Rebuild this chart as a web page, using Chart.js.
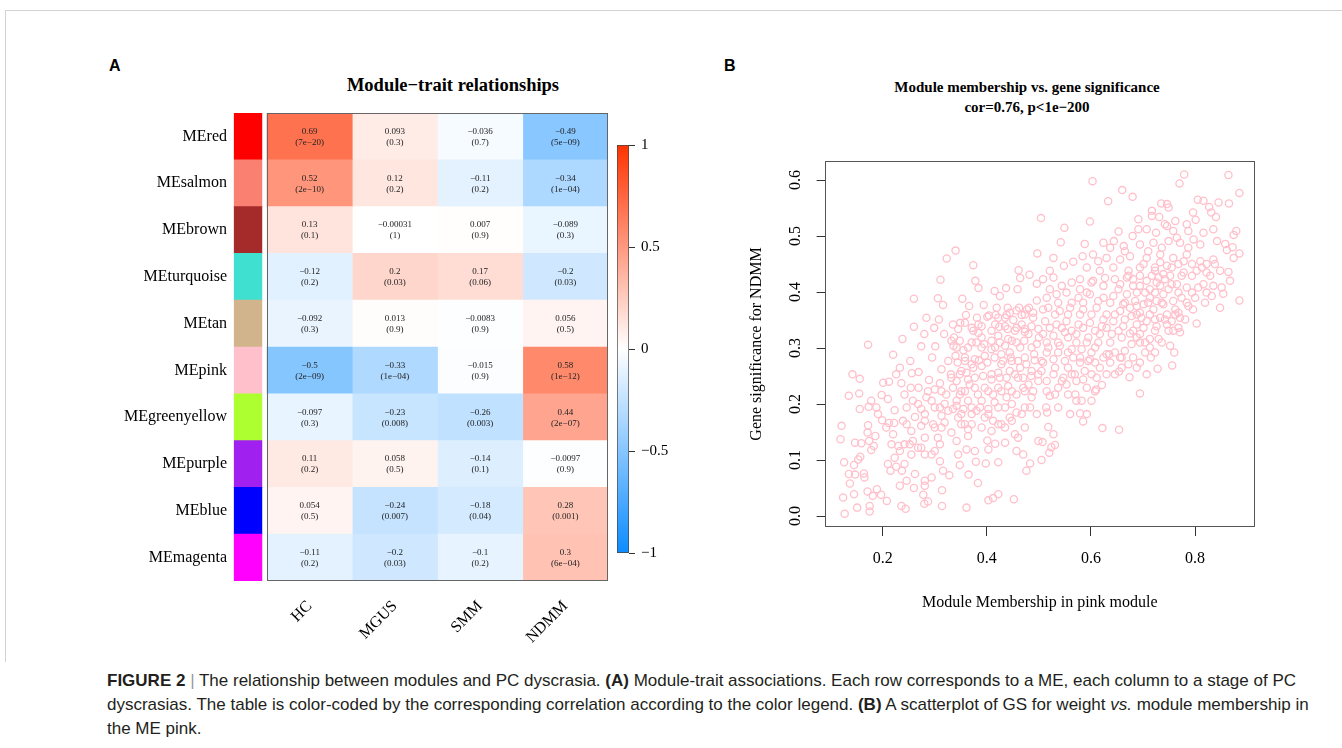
<!DOCTYPE html>
<html><head><meta charset="utf-8">
<script src="https://cdn.jsdelivr.net/npm/chart.js@4/dist/chart.umd.min.js"></script>
<style>
html,body{margin:0;padding:0;background:#fff;}
body{width:1342px;height:748px;position:relative;overflow:hidden;font-family:"Liberation Serif","Times New Roman",serif;color:#000;}
.abs{position:absolute;}
#frameTop{left:5px;top:10px;width:1337px;height:1px;background:#d3d3d3;}
#frameLeft{left:5px;top:10px;width:1px;height:652px;background:#d3d3d3;}
.panel{font-family:"Liberation Sans",Arial,sans-serif;font-weight:bold;font-size:16px;line-height:16px;}
.ttl{font-weight:bold;text-align:center;white-space:nowrap;}
#caption{left:107px;top:669px;font-family:"Liberation Sans",Arial,sans-serif;font-size:17px;line-height:24px;color:#231f20;white-space:nowrap;}
#caption .sep{color:#999;}
canvas{position:absolute;}
</style>
</head><body>
<div id="frameTop" class="abs"></div>
<div id="frameLeft" class="abs"></div>
<div class="abs panel" style="left:109px;top:58px;">A</div>
<div class="abs panel" style="left:724px;top:58px;">B</div>
<div class="abs ttl" style="left:253px;top:74px;width:400px;font-size:18.5px;line-height:22px;">Module−trait relationships</div>
<div class="abs ttl" style="left:827px;top:77px;width:400px;font-size:15px;line-height:20px;">Module membership vs. gene significance<br>cor=0.76, p&lt;1e−200</div>
<canvas id="heat" width="700" height="660" style="left:0;top:0;"></canvas>
<canvas id="cbar" width="60" height="440" style="left:617px;top:130px;"></canvas>
<canvas id="scat" width="560" height="480" style="left:740px;top:140px;"></canvas>
<div id="caption" class="abs"><b>FIGURE 2</b> <span class="sep">|</span> The relationship between modules and PC dyscrasia. <b>(A)</b> Module-trait associations. Each row corresponds to a ME, each column to a stage of PC<br>dyscrasias. The table is color-coded by the corresponding correlation according to the color legend. <b>(B)</b> A scatterplot of GS for weight <i>vs.</i> module membership in<br>the ME pink.</div>
<script>
// ---------------- data ----------------
const modules = ["MEred","MEsalmon","MEbrown","MEturquoise","MEtan","MEpink","MEgreenyellow","MEpurple","MEblue","MEmagenta"];
const moduleColors = ["#FF0000","#FA8072","#A52A2A","#40E0D0","#D2B48C","#FFC0CB","#ADFF2F","#A020F0","#0000FF","#FF00FF"];
const traits = ["HC","MGUS","SMM","NDMM"];
const corrHC   = [0.69, 0.52, 0.13, -0.12, -0.092, -0.5, -0.097, 0.11, 0.054, -0.11];
const corrMGUS = [0.093, 0.12, -0.00031, 0.2, 0.013, -0.33, -0.23, 0.058, -0.24, -0.2];
const corrSMM  = [-0.036, -0.11, 0.007, 0.17, -0.0083, -0.015, -0.26, -0.14, -0.18, -0.1];
const corrNDMM = [-0.49, -0.34, -0.089, -0.2, 0.056, 0.58, 0.44, -0.0097, 0.28, 0.3];
const pHC   = ["7e−20","2e−10","0.1","0.2","0.3","2e−09","0.3","0.2","0.5","0.2"];
const pMGUS = ["0.3","0.2","1","0.03","0.9","1e−04","0.008","0.5","0.007","0.03"];
const pSMM  = ["0.7","0.2","0.9","0.06","0.9","0.9","0.003","0.1","0.04","0.2"];
const pNDMM = ["5e−09","1e−04","0.3","0.03","0.5","1e−12","2e−07","0.9","0.001","6e−04"];
const legendTicks = [-1, -0.5, 0, 0.5, 1];
const scatterXTicks = [0.2, 0.4, 0.6, 0.8];
const scatterYTicks = [0, 0.1, 0.2, 0.3, 0.4, 0.5, 0.6];
// [module membership in pink, gene significance for NDMM]
const pinkGenes = [
[0.504,0.532],[0.340,0.474],[0.323,0.460],[0.374,0.448],[0.497,0.469],[0.461,0.439],[0.464,0.425],[0.482,0.431],[0.311,0.422],[0.378,0.420],[0.384,0.407],[0.496,0.415],[0.415,0.402],[0.437,0.407],[0.459,0.405],
[0.425,0.393],[0.260,0.388],[0.306,0.389],[0.316,0.377],[0.353,0.388],[0.366,0.375],[0.394,0.377],[0.419,0.372],[0.440,0.372],[0.462,0.372],[0.481,0.372],[0.496,0.385],[0.360,0.359],[0.381,0.354],[0.404,0.358],[0.422,0.354],[0.438,0.359],[0.451,0.350],[0.473,0.360],[0.489,0.354],[0.284,0.354],[0.308,0.351],[0.349,0.345],[0.384,0.342],[0.416,0.342],[0.435,0.339],[0.467,0.342],[0.260,0.338],[0.299,0.336],
[0.238,0.316],[0.172,0.306],[0.280,0.325],[0.274,0.303],[0.301,0.303],[0.318,0.325],[0.337,0.319],[0.336,0.304],[0.355,0.296],[0.371,0.310],[0.384,0.327],[0.390,0.301],[0.409,0.313],[0.422,0.322],[0.435,0.304],[0.448,0.313],[0.464,0.301],[0.480,0.325],[0.496,0.307],[0.295,0.283],[0.220,0.288],[0.340,0.286],[0.377,0.280],[0.396,0.286],[0.428,0.289],[0.444,0.292],[0.473,0.283],[0.491,0.289],
[0.233,0.265],[0.253,0.277],[0.256,0.255],[0.269,0.257],[0.142,0.253],[0.156,0.245],[0.313,0.262],[0.331,0.253],[0.351,0.259],[0.364,0.244],[0.390,0.268],[0.409,0.253],[0.428,0.271],[0.444,0.259],[0.460,0.247],[0.486,0.259],[0.499,0.241],[0.201,0.238],[0.212,0.240],[0.289,0.243],[0.310,0.237],[0.342,0.241],[0.236,0.237],[0.254,0.229],[0.269,0.229],[0.287,0.223],[0.313,0.223],[0.358,0.223],[0.377,0.229],[0.403,0.223],[0.422,0.229],[0.448,0.223],[0.473,0.223],[0.135,0.215],[0.155,0.219],[0.198,0.216],[0.210,0.209],
[0.156,0.191],[0.173,0.195],[0.188,0.194],[0.223,0.189],[0.246,0.194],[0.268,0.200],[0.262,0.177],[0.281,0.182],[0.300,0.194],[0.319,0.200],[0.313,0.179],[0.342,0.206],[0.351,0.182],[0.371,0.194],[0.390,0.206],[0.403,0.182],[0.422,0.194],[0.444,0.176],[0.457,0.185],[0.473,0.194],[0.496,0.182],[0.199,0.171],[0.212,0.166],[0.222,0.166],[0.121,0.161],[0.172,0.162],[0.246,0.164],[0.274,0.161],[0.297,0.164],[0.358,0.164],[0.364,0.155],[0.422,0.164],[0.313,0.158],
[0.119,0.137],[0.171,0.149],[0.186,0.143],[0.174,0.134],[0.147,0.131],[0.159,0.130],[0.183,0.125],[0.178,0.118],[0.220,0.146],[0.230,0.125],[0.242,0.128],[0.258,0.134],[0.274,0.122],[0.281,0.140],[0.306,0.140],[0.310,0.128],[0.300,0.116],[0.332,0.149],[0.342,0.134],[0.364,0.143],[0.361,0.119],[0.377,0.116],[0.401,0.135],[0.416,0.129],[0.435,0.131],[0.454,0.146],[0.460,0.140],[0.403,0.119],[0.457,0.116],[0.470,0.110],[0.499,0.134],[0.345,0.110],[0.281,0.110],[0.255,0.110],[0.223,0.104],[0.157,0.106],[0.153,0.101],
[0.126,0.096],[0.210,0.093],[0.226,0.088],[0.242,0.093],[0.215,0.081],[0.237,0.081],[0.145,0.091],[0.135,0.075],[0.147,0.074],[0.164,0.076],[0.165,0.069],[0.137,0.058],[0.262,0.075],[0.246,0.063],[0.281,0.063],[0.294,0.069],[0.316,0.081],[0.328,0.073],[0.348,0.091],[0.365,0.074],[0.379,0.097],[0.398,0.094],[0.422,0.096],[0.383,0.059],[0.476,0.081],[0.483,0.094],[0.233,0.054],[0.260,0.050],[0.281,0.054],[0.171,0.044],[0.189,0.048],[0.181,0.036],[0.197,0.038],[0.208,0.027],[0.145,0.039],[0.124,0.033],[0.278,0.038],[0.287,0.026],[0.280,0.022],[0.314,0.046],[0.314,0.018],[0.236,0.018],[0.244,0.013],[0.175,0.018],[0.175,0.008],[0.151,0.015],[0.127,0.004],[0.361,0.015],[0.403,0.028],[0.412,0.032],[0.422,0.039],[0.452,0.030],
[0.342,0.301],[0.358,0.277],[0.374,0.265],[0.348,0.217],[0.364,0.206],[0.380,0.188],[0.396,0.176],[0.412,0.170],[0.435,0.158],[0.425,0.247],[0.448,0.277],[0.464,0.265],[0.480,0.235],[0.486,0.212],[0.438,0.212],[0.335,0.191],[0.351,0.164],[0.416,0.301],[0.390,0.319],[0.371,0.336],[0.473,0.334],[0.454,0.331],
[0.401,0.356],[0.417,0.359],[0.435,0.354],[0.444,0.363],[0.457,0.367],[0.467,0.359],[0.477,0.369],[0.489,0.363],
[0.335,0.342],[0.345,0.334],[0.358,0.345],[0.374,0.331],[0.390,0.339],[0.409,0.331],[0.424,0.338],[0.440,0.334],[0.457,0.336],[0.473,0.329],[0.486,0.339],[0.499,0.334],
[0.332,0.313],[0.348,0.313],[0.364,0.301],[0.380,0.310],[0.395,0.307],[0.409,0.298],[0.425,0.310],[0.441,0.316],[0.457,0.310],[0.472,0.313],[0.486,0.301],[0.500,0.319],
[0.326,0.277],[0.344,0.274],[0.358,0.283],[0.371,0.271],[0.385,0.278],[0.401,0.274],[0.415,0.283],[0.431,0.277],[0.446,0.283],[0.460,0.277],[0.476,0.271],[0.492,0.278],
[0.332,0.247],[0.348,0.253],[0.361,0.256],[0.377,0.247],[0.393,0.250],[0.409,0.244],[0.422,0.256],[0.438,0.247],[0.454,0.253],[0.470,0.247],[0.485,0.250],[0.499,0.253],
[0.300,0.226],[0.322,0.217],[0.335,0.229],[0.351,0.223],[0.367,0.235],[0.383,0.217],[0.396,0.229],[0.412,0.217],[0.428,0.223],[0.441,0.232],[0.457,0.217],[0.470,0.229],[0.489,0.223],
[0.294,0.206],[0.310,0.194],[0.326,0.188],[0.342,0.197],[0.355,0.191],[0.371,0.182],[0.387,0.194],[0.403,0.191],[0.415,0.203],[0.435,0.194],[0.448,0.200],[0.467,0.182],[0.483,0.194],
[0.281,0.170],[0.300,0.158],[0.319,0.167],[0.345,0.176],[0.371,0.164],[0.390,0.158],[0.409,0.152],[0.428,0.164],[0.448,0.170],[0.473,0.158],
[0.226,0.253],[0.242,0.217],[0.258,0.206],[0.274,0.191],[0.284,0.212],[0.239,0.170],[0.255,0.152],[0.268,0.122],[0.294,0.110],[0.310,0.098],[0.252,0.128],[0.233,0.116],[0.217,0.128],[0.207,0.158],[0.191,0.182],[0.178,0.206],
[0.603,0.598],[0.779,0.610],[0.770,0.594],[0.864,0.609],[0.885,0.577],[0.660,0.582],[0.680,0.570],[0.633,0.562],[0.598,0.526],[0.549,0.515],[0.542,0.489],[0.528,0.461],
[0.735,0.558],[0.746,0.557],[0.749,0.551],[0.805,0.565],[0.816,0.563],[0.845,0.560],[0.865,0.558],[0.827,0.552],[0.831,0.542],[0.840,0.534],[0.796,0.542],[0.801,0.529],[0.691,0.530],[0.717,0.536],[0.731,0.534],[0.762,0.527],[0.784,0.521],
[0.653,0.508],[0.691,0.512],[0.707,0.512],[0.725,0.506],[0.746,0.518],[0.758,0.509],[0.787,0.509],[0.816,0.506],[0.835,0.512],[0.874,0.502],[0.879,0.509],
[0.588,0.486],[0.624,0.488],[0.644,0.491],[0.680,0.500],[0.663,0.482],[0.694,0.485],[0.720,0.488],[0.749,0.491],[0.771,0.488],[0.797,0.494],[0.810,0.485],[0.842,0.491],[0.858,0.486],[0.872,0.480],[0.861,0.475],[0.885,0.469],[0.874,0.461],
[0.584,0.464],[0.604,0.467],[0.566,0.454],[0.548,0.447],[0.521,0.438],[0.508,0.423],[0.528,0.426],[0.630,0.461],[0.656,0.458],[0.675,0.464],[0.707,0.461],[0.733,0.467],[0.758,0.461],[0.784,0.467],[0.810,0.455],[0.835,0.458],
[0.592,0.444],[0.617,0.438],[0.643,0.444],[0.672,0.438],[0.694,0.444],[0.723,0.438],[0.739,0.432],[0.752,0.429],[0.778,0.435],[0.803,0.438],[0.822,0.435],[0.848,0.438],[0.864,0.436],[0.867,0.420],
[0.579,0.423],[0.604,0.420],[0.627,0.425],[0.656,0.414],[0.681,0.423],[0.707,0.420],[0.730,0.426],[0.765,0.414],[0.784,0.408],[0.816,0.414],[0.851,0.408],[0.854,0.397],[0.832,0.393],[0.848,0.372],[0.885,0.385],[0.796,0.369],[0.784,0.381],[0.803,0.344],
[0.515,0.390],[0.534,0.396],[0.553,0.399],[0.576,0.390],[0.598,0.396],[0.624,0.390],[0.643,0.393],[0.669,0.396],[0.688,0.399],[0.713,0.390],[0.739,0.396],[0.758,0.384],
[0.518,0.372],[0.540,0.366],[0.560,0.372],[0.585,0.369],[0.611,0.372],[0.630,0.360],[0.656,0.366],[0.675,0.372],[0.694,0.363],[0.720,0.369],[0.746,0.360],[0.771,0.354],
[0.512,0.348],[0.534,0.342],[0.553,0.348],[0.576,0.342],[0.598,0.345],[0.621,0.339],[0.643,0.348],[0.662,0.339],[0.688,0.342],[0.707,0.348],[0.726,0.339],[0.746,0.342],[0.758,0.331],[0.771,0.328],
[0.508,0.325],[0.528,0.322],[0.550,0.328],[0.572,0.325],[0.595,0.319],[0.617,0.325],[0.640,0.325],[0.675,0.326],[0.694,0.325],[0.713,0.316],[0.730,0.316],[0.752,0.304],[0.760,0.292],[0.756,0.269],
[0.518,0.301],[0.540,0.304],[0.563,0.298],[0.582,0.298],[0.608,0.301],[0.630,0.289],[0.665,0.295],[0.678,0.307],[0.694,0.310],[0.713,0.301],
[0.505,0.277],[0.528,0.280],[0.550,0.277],[0.566,0.283],[0.595,0.277],[0.598,0.280],[0.617,0.265],[0.635,0.289],[0.656,0.283],[0.672,0.271],[0.694,0.274],[0.715,0.283],[0.728,0.263],
[0.646,0.253],[0.654,0.258],[0.674,0.248],[0.707,0.253],[0.505,0.259],[0.528,0.253],[0.547,0.247],[0.569,0.253],[0.588,0.259],[0.585,0.244],[0.611,0.247],
[0.515,0.223],[0.537,0.229],[0.553,0.235],[0.610,0.226],[0.621,0.234],[0.608,0.223],[0.570,0.217],[0.521,0.215],[0.572,0.206],[0.582,0.206],[0.601,0.206],[0.694,0.219],
[0.537,0.194],[0.514,0.194],[0.560,0.182],[0.579,0.183],[0.592,0.182],[0.585,0.169],[0.516,0.185],[0.518,0.159],[0.528,0.146],[0.507,0.132],[0.531,0.127],[0.524,0.123],[0.520,0.113],[0.505,0.100],[0.622,0.157],[0.654,0.154],
[0.669,0.426],[0.694,0.411],[0.713,0.405],[0.733,0.411],[0.755,0.414],[0.685,0.384],[0.701,0.378],[0.726,0.384],[0.739,0.378],[0.662,0.378],[0.697,0.354],[0.678,0.357],[0.713,0.360],[0.733,0.354],[0.755,0.348],[0.768,0.363],[0.794,0.399],[0.806,0.408],[0.822,0.399],[0.835,0.411],[0.746,0.447],[0.768,0.450],[0.794,0.450],[0.822,0.450],[0.733,0.453],[0.778,0.455],
[0.717,0.545],[0.742,0.521],[0.765,0.497],[0.787,0.479],[0.736,0.479],[0.710,0.473],[0.665,0.473],[0.637,0.479],[0.614,0.455],[0.701,0.450],[0.723,0.444],[0.755,0.444],[0.774,0.429],[0.794,0.429],[0.813,0.444],[0.829,0.429],[0.838,0.450],
[0.742,0.423],[0.726,0.417],[0.717,0.429],[0.694,0.429],[0.672,0.429],[0.646,0.423],[0.624,0.411],[0.601,0.417],[0.563,0.417],[0.544,0.411],[0.521,0.405],[0.579,0.405],[0.592,0.399],[0.653,0.405],[0.681,0.411],[0.704,0.399],[0.723,0.399],[0.749,0.405],[0.768,0.399],
[0.774,0.390],[0.800,0.390],[0.819,0.381],[0.787,0.375],[0.762,0.369],[0.736,0.381],[0.710,0.381],[0.688,0.375],[0.665,0.381],[0.637,0.381],[0.614,0.384],[0.585,0.381],[0.563,0.381],[0.537,0.381],
[0.508,0.369],[0.531,0.360],[0.556,0.360],[0.579,0.360],[0.601,0.360],[0.624,0.351],[0.646,0.360],[0.665,0.351],[0.688,0.360],[0.723,0.351],[0.742,0.351],[0.762,0.360],[0.781,0.351],
[0.768,0.336],[0.749,0.331],[0.723,0.331],[0.701,0.336],[0.681,0.331],[0.653,0.331],[0.630,0.336],[0.608,0.331],[0.585,0.336],[0.563,0.331],[0.544,0.336],[0.521,0.336],
[0.515,0.310],[0.537,0.310],[0.556,0.319],[0.572,0.310],[0.592,0.310],[0.614,0.310],[0.637,0.310],[0.659,0.319],[0.688,0.319],[0.704,0.310],[0.736,0.310],
[0.723,0.292],[0.704,0.292],[0.681,0.283],[0.659,0.283],[0.646,0.292],[0.624,0.283],[0.601,0.292],[0.579,0.283],[0.556,0.292],[0.537,0.292],[0.515,0.292],
[0.508,0.274],[0.531,0.265],[0.556,0.265],[0.579,0.274],[0.608,0.274],[0.637,0.274],[0.659,0.265],[0.688,0.265],[0.630,0.253],[0.601,0.253],[0.563,0.253],
[0.515,0.241],[0.544,0.241],[0.572,0.241],[0.592,0.229],[0.556,0.217],[0.531,0.217]
];

// ---------------- helpers ----------------
const SERIF = '"Liberation Serif", "Times New Roman", serif';
const corrByTrait = [corrHC, corrMGUS, corrSMM, corrNDMM];
const pByTrait = [pHC, pMGUS, pSMM, pNDMM];
const fmt = v => String(v).replace('-', '\u2212');
function corrColor(v){
  const t = Math.max(-1, Math.min(1, v));
  if (t >= 0) return `rgb(255,${Math.round(255-204*t)},${Math.round(255-255*t)})`;
  const a = -t;
  return `rgb(${Math.round(255-242*a)},${Math.round(255-115*a)},255)`;
}

// ---------------- heatmap ----------------
const SIDE = [-0.385, -0.06];
const cellText = {
  id: 'cellText',
  afterDatasetsDraw(chart){
    const ctx = chart.ctx;
    ctx.save();
    ctx.font = '9px ' + SERIF;
    ctx.fillStyle = '#222';
    ctx.textAlign = 'center';
    ctx.textBaseline = 'middle';
    traits.forEach((t, c) => {
      const meta = chart.getDatasetMeta(c + 1);
      meta.data.forEach((el, r) => {
        const cx = (el.x + el.base) / 2;
        ctx.fillText(fmt(corrByTrait[c][r]), cx, el.y - 5);
        ctx.fillText('(' + pByTrait[c][r] + ')', cx, el.y + 6);
      });
    });
    const xs = chart.scales.x, a = chart.chartArea;
    const x0 = Math.round(xs.getPixelForValue(0)) + 0.5, x1 = Math.round(xs.getPixelForValue(traits.length)) - 0.5;
    ctx.strokeStyle = '#666'; ctx.lineWidth = 1;
    ctx.strokeRect(x0, a.top + 0.5, x1 - x0, a.bottom - a.top - 1);
    ctx.restore();
  }
};
new Chart(document.getElementById('heat'), {
  type: 'bar',
  data: {
    labels: modules,
    datasets: [
      { label: 'module', data: modules.map(() => SIDE), backgroundColor: moduleColors,
        grouped: false, barPercentage: 1, categoryPercentage: 1, borderWidth: 0 },
      ...traits.map((t, c) => ({
        label: t, data: modules.map(() => [c, c + 1]),
        backgroundColor: corrByTrait[c].map(corrColor),
        grouped: false, barPercentage: 1, categoryPercentage: 1, borderWidth: 0
      }))
    ]
  },
  options: {
    indexAxis: 'y', responsive: false, animation: false,
    layout: { padding: { top: 113, right: 92, bottom: 0, left: 0 } },
    plugins: { legend: { display: false }, tooltip: { enabled: false } },
    scales: {
      y: {
        type: 'category', grid: { display: false, drawTicks: false }, border: { display: false },
        ticks: { color: '#000', font: { family: SERIF, size: 16 }, padding: 6 },
        afterFit(s){ s.width = 233; }
      },
      x: {
        type: 'linear', min: -0.399, max: traits.length,
        grid: { display: false, drawTicks: false }, border: { display: false },
        afterBuildTicks(s){ s.ticks = traits.map((t, i) => ({ value: i + 0.5 })); },
        ticks: { autoSkip: false, minRotation: 45, maxRotation: 45, color: '#000',
                 font: { family: SERIF, size: 16 }, padding: 16,
                 callback: (v, i) => traits[i] },
        afterFit(s){ s.height = 79; }
      }
    }
  },
  plugins: [cellText]
});

// ---------------- colour legend ----------------
new Chart(document.getElementById('cbar'), {
  type: 'bar',
  data: { labels: [''], datasets: [{
    data: [[legendTicks[0], legendTicks[legendTicks.length - 1]]],
    backgroundColor(ctx){
      const ch = ctx.chart, a = ch.chartArea;
      if (!a) return '#fff';
      const g = ch.ctx.createLinearGradient(0, a.top, 0, a.bottom);
      g.addColorStop(0, corrColor(1)); g.addColorStop(0.5, corrColor(0)); g.addColorStop(1, corrColor(-1));
      return g;
    },
    borderColor: '#444', borderWidth: 1, borderSkipped: false,
    barPercentage: 1, categoryPercentage: 1
  }]},
  options: {
    responsive: false, animation: false,
    layout: { padding: { top: 12, bottom: 17, left: 0, right: 0 } },
    plugins: { legend: { display: false }, tooltip: { enabled: false } },
    scales: {
      x: { display: false },
      y: {
        position: 'right', min: -1, max: 1,
        afterBuildTicks(s){ s.ticks = legendTicks.map(v => ({ value: v })); },
        grid: { drawOnChartArea: false, drawTicks: true, tickLength: 6, color: '#333' },
        border: { display: false },
        ticks: { color: '#000', font: { family: SERIF, size: 15 }, padding: 6, callback: v => fmt(v) },
        afterFit(s){ s.width = 48; }
      }
    }
  }
});

// ---------------- scatter ----------------
const boxPlugin = {
  id: 'box',
  afterDraw(chart){
    const a = chart.chartArea, ctx = chart.ctx;
    ctx.save(); ctx.strokeStyle = '#555'; ctx.lineWidth = 1;
    ctx.strokeRect(Math.round(a.left) + 0.5, Math.round(a.top) + 0.5, Math.round(a.right - a.left) - 1, Math.round(a.bottom - a.top) - 1);
    ctx.restore();
  }
};
new Chart(document.getElementById('scat'), {
  type: 'scatter',
  data: { datasets: [{
    data: pinkGenes.map(p => ({ x: p[0], y: p[1] })),
    pointStyle: 'circle', pointRadius: 3.6, borderWidth: 1.3,
    borderColor: '#FFC0CB', backgroundColor: 'rgba(0,0,0,0)'
  }]},
  options: {
    responsive: false, animation: false,
    layout: { padding: { top: 21, right: 45, left: 3, bottom: 4 } },
    plugins: { legend: { display: false }, tooltip: { enabled: false } },
    scales: {
      x: {
        type: 'linear', min: 0.0885, max: 0.915,
        afterBuildTicks(s){ s.ticks = scatterXTicks.map(v => ({ value: v })); },
        grid: { drawOnChartArea: false, drawTicks: true, tickLength: 9, color: '#333' },
        border: { display: false },
        ticks: { color: '#000', font: { family: SERIF, size: 16 }, padding: 13, callback: v => v.toFixed(1) },
        title: { display: true, text: 'Module Membership in pink module', color: '#000', font: { family: SERIF, size: 16 }, padding: { top: 4, bottom: 4 } },
        afterFit(s){ s.height = 89; }
      },
      y: {
        type: 'linear', min: -0.0196, max: 0.634,
        afterBuildTicks(s){ s.ticks = scatterYTicks.map(v => ({ value: v })); },
        grid: { drawOnChartArea: false, drawTicks: true, tickLength: 8, color: '#333' },
        border: { display: false },
        ticks: { color: '#000', font: { family: SERIF, size: 16 }, padding: 11, minRotation: 90, maxRotation: 90,
                 crossAlign: 'center', callback: v => v.toFixed(1) },
        title: { display: true, text: 'Gene significance for NDMM', color: '#000', font: { family: SERIF, size: 16 }, padding: { top: 4, bottom: 4 } },
        afterFit(s){ s.width = 81.6; }
      }
    }
  },
  plugins: [boxPlugin]
});
</script>
</body></html>
